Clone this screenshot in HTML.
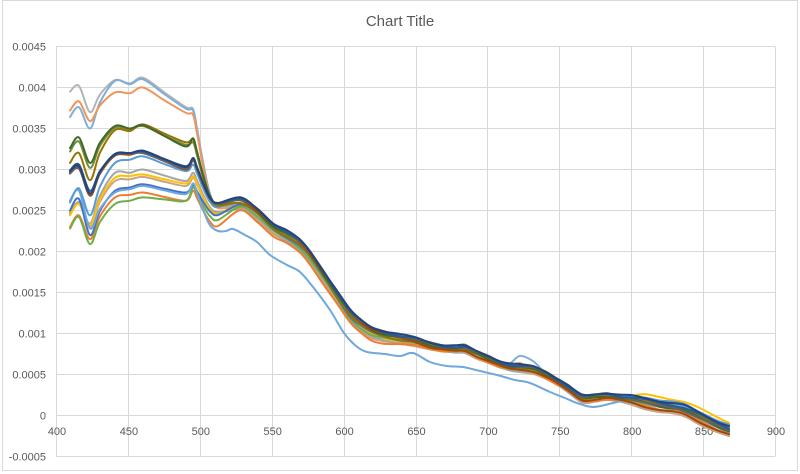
<!DOCTYPE html>
<html>
<head>
<meta charset="utf-8">
<style>
html,body{margin:0;padding:0;background:#fff;}
svg{display:block;}
text{font-family:"Liberation Sans",Arial,sans-serif;fill:#595959;}
</style>
</head>
<body>
<svg id="c" width="800" height="474" viewBox="0 0 800 474" xmlns="http://www.w3.org/2000/svg">
<rect x="0" y="0" width="800" height="474" fill="#fff"/>
<rect x="2.5" y="0.5" width="795" height="470" fill="none" stroke="#d9d9d9" stroke-width="1"/>
<text x="400" y="26" font-size="15" text-anchor="middle">Chart Title</text>
<g id="grid" stroke="#d9d9d9" stroke-width="1" fill="none"></g>
<g id="labels" font-size="11"></g>
<g id="series" fill="none" stroke-width="2" stroke-linejoin="round" stroke-linecap="round"></g>
</svg>
<script>
(function(){
var NS="http://www.w3.org/2000/svg";
var grid=document.getElementById("grid"),labels=document.getElementById("labels"),ser=document.getElementById("series");
function el(tag,attrs,parent,txt){var e=document.createElementNS(NS,tag);for(var k in attrs)e.setAttribute(k,attrs[k]);if(txt!==undefined)e.textContent=txt;parent.appendChild(e);return e;}
// horizontal gridlines
var ylabs=["0.0045","0.004","0.0035","0.003","0.0025","0.002","0.0015","0.001","0.0005","0","-0.0005"];
for(var k=0;k<=10;k++){
  var y=46.5+41*k;
  el("line",{x1:56,y1:y,x2:775,y2:y},grid);
  el("text",{x:46,y:y+4,"text-anchor":"end"},labels,ylabs[k]);
}
// vertical gridlines
for(var k=0;k<=10;k++){
  var x=Math.round(56+71.9*k)+0.5;
  el("line",{x1:x,y1:46.5,x2:x,y2:456.5},grid);
  el("text",{x:56+71.9*k+1,y:435,"text-anchor":"middle"},labels,String(400+50*k));
}
function up(v){return 415.5-8.2*v;}
var base=[[240,203],[257,213],[273,228],[287,236],[300,245],[310,256],[323,275],[337,296],[350,315],[360,324],[372,332],[385,336],[400,339],[415,341],[430,345],[443,348],[455,349],[465,349],[477,354],[487,358],[500,364],[510,367],[520,368],[533,369],[545,374],[555,380],[567,388],[582,398],[595,397],[607,396],[620,398],[632,399],[645,401],[660,404],[672,406],[685,409],[700,416],[717,424],[729,429]];
var S=[
 {c:"#B4B4B4",u:[39.5,40.2,37.0,40.9,40.5,41.2,37.6,37.4],t:205,o1:3,om:2,o2:3},
 {c:"#7DAEDC",u:[36.4,37.6,35.0,40.8,40.4,41.0,37.4,37.2],t:206,o1:2,om:0,o2:-3,bx:523,ba:-13,bs:9},
 {c:"#F0955A",u:[37.2,38.3,35.9,39.4,39.3,40.0,36.9,36.7],t:208,o1:5,om:3,o2:5},
 {c:"#C8A584",u:[24.8,25.9,23.0,28.6,28.8,29.1,28.0,29.0],t:213,o1:6,om:4,o2:8},
 {c:"#A5A5A5",u:[24.6,26.0,23.4,29.6,29.6,30.0,28.6,29.6],t:212,o1:5,om:3,o2:4},
 {c:"#FFC000",u:[24.4,25.8,23.2,29.0,29.2,29.4,28.3,29.2],t:214,o1:2,om:1,o2:-7},
 {c:"#ED7D31",u:[23.0,24.4,21.5,26.6,26.9,27.2,26.2,27.4],t:226,o1:8,om:3,o2:5,bx:520,ba:-7,bs:7},
 {c:"#70AD47",u:[22.8,24.2,20.9,25.8,26.2,26.6,26.2,27.8],t:220,o1:3,om:0,o2:2,bx:465,ba:-5,bs:8},
 {c:"#4472C4",u:[25.0,26.4,22.0,27.4,27.8,28.2,27.2,28.1],t:215,o1:1,om:0,o2:-1},
 {c:"#6FA8DC",u:[26.2,27.4,22.8,27.2,27.6,28.0,27.0,28.3],t:231,low:true},
 {c:"#5B9BD5",u:[26.0,27.7,24.4,30.8,31.2,31.6,29.8,30.6],t:207,o1:-3,om:-1,o2:-4},
 {c:"#6F8F3A",u:[32.2,33.4,30.2,35.1,34.9,35.3,33.0,33.3],t:206,o1:-1,om:-1,o2:0},
 {c:"#997300",u:[30.8,32.0,28.7,34.8,34.7,35.5,33.3,33.7],t:205,o1:0,om:1,o2:1},
 {c:"#43682B",u:[32.6,33.9,30.8,35.3,35.0,35.4,32.8,33.8],t:204,o1:-2,om:0,o2:2},
 {c:"#9E480E",u:[29.6,30.2,26.8,31.7,31.8,32.1,30.0,31.1],t:204,o1:-3,om:2,o2:6},
 {c:"#636363",u:[29.5,30.1,27.0,31.8,31.9,32.0,30.1,31.2],t:204,o1:-4,om:-2,o2:2},
 {c:"#255E91",u:[29.9,30.6,27.4,31.8,32.0,32.2,30.4,31.3],t:203,o1:-4,om:-2,o2:-1},
 {c:"#264478",u:[29.8,30.4,27.1,31.9,32.0,32.3,30.3,31.4],t:203,o1:-5,om:-3,o2:-3}
];
var LOW=[[226,231],[233,229],[245,235],[257,242],[270,255],[287,265],[300,272],[313,287],[330,310],[344,333],[356,346],[367,352],[385,354],[400,356],[413,353],[430,362],[447,366],[463,367],[480,371],[497,375],[515,380],[530,383],[550,392],[565,398],[577,403],[593,407],[613,403],[627,400],[642,401]];
function lerp(a,b,t){return a+(b-a)*t;}
function off(s,x){
  if(x<=380)return s.o1;
  if(x<430)return lerp(s.o1,s.om,(x-380)/50);
  if(x<=615)return s.om;
  if(x<650)return lerp(s.om,s.o2,(x-615)/35);
  return s.o2;
}
function path(p){
  var d="M"+p[0][0]+","+p[0][1].toFixed(1);
  for(var i=0;i<p.length-1;i++){
    var p0=p[i-1]||p[i],p1=p[i],p2=p[i+1],p3=p[i+2]||p2;
    var c1x=p1[0]+(p2[0]-p0[0])/6,c1y=p1[1]+(p2[1]-p0[1])/6;
    var c2x=p2[0]-(p3[0]-p1[0])/6,c2y=p2[1]-(p3[1]-p1[1])/6;
    d+=" C"+c1x.toFixed(1)+","+c1y.toFixed(1)+" "+c2x.toFixed(1)+","+c2y.toFixed(1)+" "+p2[0]+","+p2[1].toFixed(1);
  }
  return d;
}
S.forEach(function(s,idx){
  var u=s.u.map(up);
  var p=[[70,u[0]],[79,u[1]],[90,u[2]],[100,u[2]+0.55*(u[3]-u[2])],[115,u[3]],[130,u[4]],[143,u[5]],[165,(u[5]+u[6])/2+0.5],[186,u[6]],[193,u[7]]];
  var b=u[7],t=s.t;
  p.push([197,b+0.2*(t-b)],[203,b+0.55*(t-b)],[210,b+0.88*(t-b)],[218,t]);
  var ph=idx*1.7;
  if(s.low){
    p=p.concat(LOW);
    s.o1=-2;s.om=-2;s.o2=-2;
    base.forEach(function(q){ if(q[0]>=660) p.push([q[0],q[1]-2+Math.sin(q[0]/9+ph)*0.8]); });
  } else {
    base.forEach(function(q){
      var x=q[0],y=q[1]+off(s,x)+Math.sin(x/9+ph)*0.9;
      if(s.bx){var dx=(x-s.bx)/s.bs;y+=s.ba*Math.exp(-dx*dx/2);}
      p.push([x,y]);
    });
  }
  el("path",{d:path(p),stroke:s.c},ser);
});
})();
</script>
</body>
</html>
